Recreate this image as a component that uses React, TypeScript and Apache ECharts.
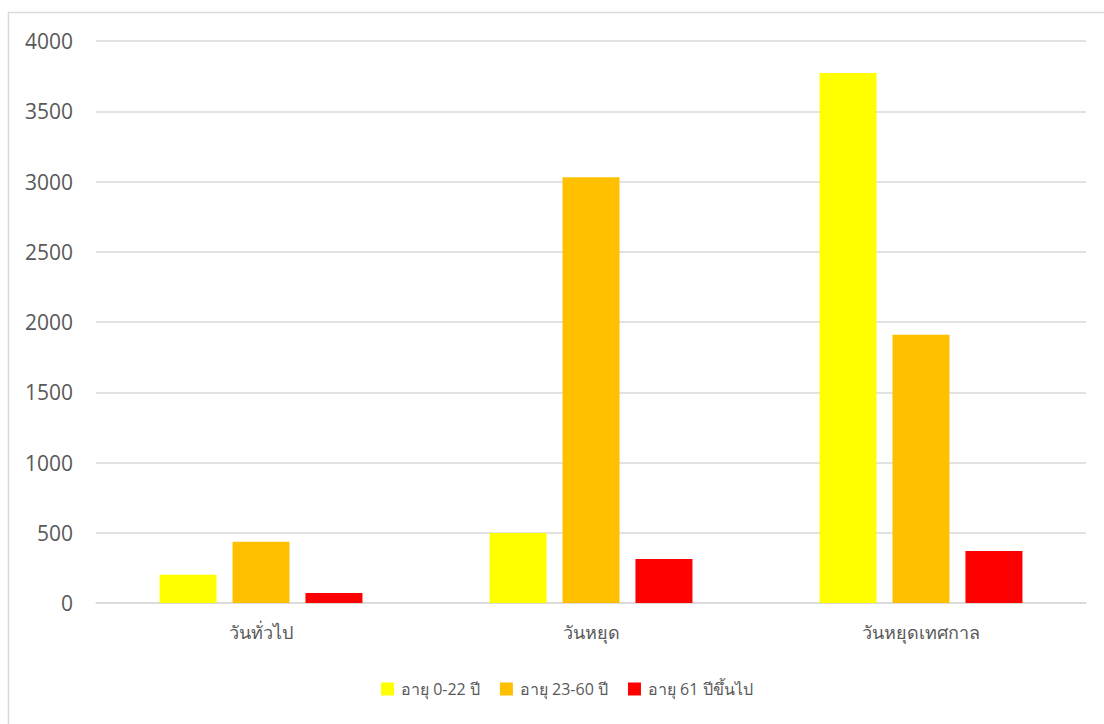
import React, { useEffect, useRef } from "react";
import * as echarts from "echarts";

const categories = ["วันทั่วไป", "วันหยุด", "วันหยุดเทศกาล"];
const seriesNames = ["อายุ 0-22 ปี", "อายุ 23-60 ปี", "อายุ 61 ปีขึ้นไป"];
const age0to22 = [201, 498, 3772];
const age23to60 = [436, 3030, 1910];
const age61plus = [71, 313, 370];
const colors = ["#FFFF00", "#FFC000", "#FF0000"];

export default function App() {
  const ref = useRef<HTMLDivElement>(null);
  useEffect(() => {
    if (!ref.current) return;
    const chart = echarts.init(ref.current, undefined, { renderer: "svg" });
    const font = "'Open Sans', 'Noto Sans', sans-serif";
    const data = [age0to22, age23to60, age61plus];
    chart.setOption({
      animation: false,
      backgroundColor: "#ffffff",
      graphic: [
        {
          type: "rect",
          shape: { x: 8.5, y: 12.5, width: 1110, height: 730 },
          style: { fill: "none", stroke: "#d9d9d9", lineWidth: 1.5 },
          silent: true,
        },
      ],
      grid: { left: 96, right: 18, top: 41, bottom: 121 },
      legend: {
        bottom: 22,
        left: 376,
        itemWidth: 13,
        itemHeight: 13,
        itemGap: 20,
        icon: "rect",
        textStyle: { color: "#595959", fontSize: 16, fontFamily: font, padding: [0, 0, 0, 2] },
        data: seriesNames,
      },
      xAxis: {
        type: "category",
        data: categories,
        axisLine: { lineStyle: { color: "#d9d9d9", width: 1.5 } },
        axisTick: { show: false },
        axisLabel: { color: "#595959", fontSize: 18, fontFamily: font, margin: 20 },
      },
      yAxis: {
        type: "value",
        min: 0,
        max: 4000,
        interval: 500,
        axisLine: { show: false },
        axisTick: { show: false },
        splitLine: { lineStyle: { color: "#d9d9d9", width: 1.5 } },
        axisLabel: {
          color: "#595959",
          fontSize: 21,
          fontFamily: font,
          margin: 23,
          formatter: (v: number) => String(v),
        },
      },
      series: seriesNames.map((name, i) => ({
        name,
        type: "bar",
        data: data[i],
        barWidth: 57,
        barGap: "28%",
        itemStyle: { color: colors[i] },
      })),
    });
    return () => chart.dispose();
  }, []);
  return (
    <div
      ref={ref}
      style={{ position: "absolute", left: 0, top: 0, width: 1104, height: 724 }}
    />
  );
}
